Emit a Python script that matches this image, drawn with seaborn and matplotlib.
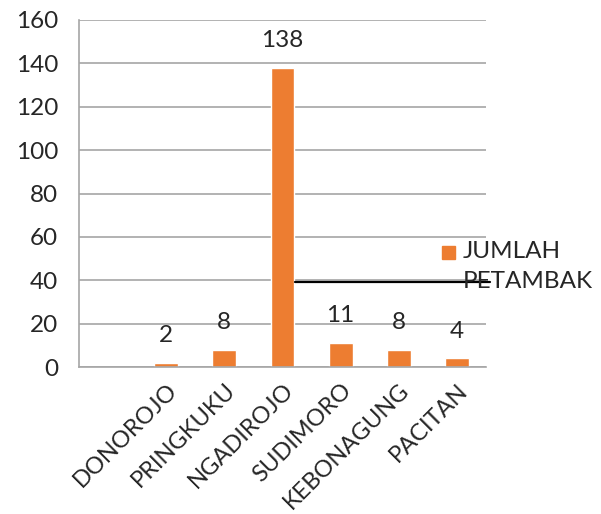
import numpy as np
import pandas as pd
import matplotlib.pyplot as plt
import seaborn as sns
from matplotlib.patches import Rectangle

categories = ["", "DONOROJO", "PRINGKUKU", "NGADIROJO", "SUDIMORO", "KEBONAGUNG", "PACITAN"]
values = [np.nan, 2, 8, 138, 11, 8, 4]
series_name = "JUMLAH PETAMBAK"
yticks = list(range(0, 161, 20))

df = pd.DataFrame({"kecamatan": categories, "jumlah": values})

sns.set_style("white")
plt.rcParams['font.family'] = ['Lato', 'DejaVu Sans']
orange = "#ED7D31"
grey = "#A6A6A6"
fs = 17.5

fig = plt.figure(figsize=(6.01, 5.14), dpi=100)
ax = fig.add_axes([79/601, 1 - 367/514, (486 - 79)/601, (367 - 20)/514])

sns.barplot(data=df, x="kecamatan", y="jumlah", order=categories, color=orange,
            width=0.41, saturation=1, ax=ax)

ax.set_xlim(-0.5, len(categories) - 0.5)
ax.set_ylim(0, 160)
ax.set_yticks(yticks)
ax.yaxis.grid(True, color=grey, linewidth=1.2)
ax.set_axisbelow(True)
for s in ["top", "right"]:
    ax.spines[s].set_visible(False)
for s in ["left", "bottom"]:
    ax.spines[s].set_color(grey)
    ax.spines[s].set_linewidth(1.2)

ax.set_xlabel("")
ax.set_ylabel("")
ax.tick_params(axis="y", length=9, color=grey, width=1.2, labelsize=fs, pad=6)
ax.tick_params(axis="x", length=0, labelsize=17, pad=9)
ax.set_xticks(range(len(categories)))
ax.set_xticklabels(categories, rotation=45, ha="right", rotation_mode="anchor")
ax.set_xticks(np.arange(-0.5, len(categories)), minor=True)
ax.tick_params(axis="x", which="minor", length=8, color=grey, width=1.2)

# data labels above bars
for i, v in enumerate(values):
    if np.isnan(v):
        continue
    ax.annotate(f"{int(v)}", (i, v), xytext=(0, 12), textcoords="offset points",
                ha="center", va="bottom", fontsize=fs)

# legend drawn by hand (wrapped label)
fig.patches.append(Rectangle((442/601, 1 - 259/514), 13/601, 13/514,
                             transform=fig.transFigure, color=orange))
words = series_name.split()
fig.text(463/601, 1 - 251/514, words[0], fontsize=fs, va="center", ha="left")
fig.text(463/601, 1 - 282/514, words[1], fontsize=fs, va="center", ha="left")

# stray black line over the legend
ax.plot([3.22, 6.57], [39.3, 39.3], color="black", linewidth=1.6, clip_on=False)

fig.savefig("out.png", dpi=100)
